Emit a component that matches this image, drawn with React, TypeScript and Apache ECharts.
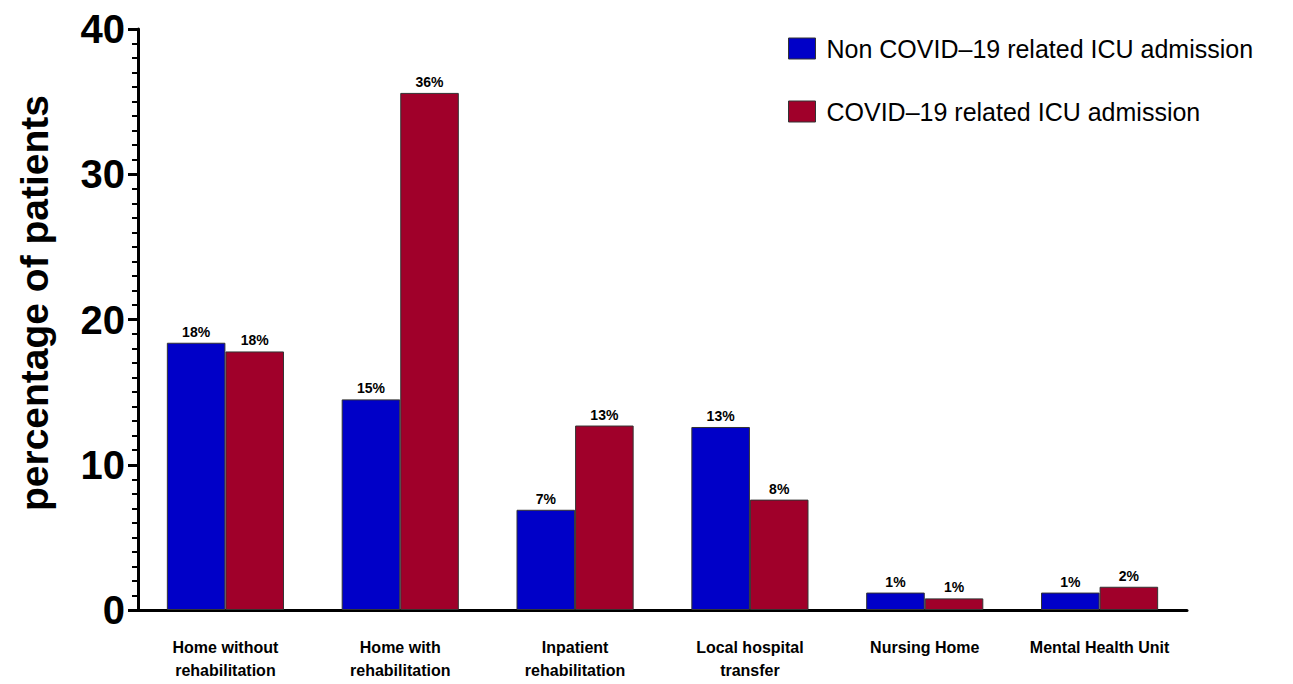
import React, { useEffect, useRef } from "react";
import * as echarts from "echarts";

const categories = [
  "Home without\nrehabilitation",
  "Home with\nrehabilitation",
  "Inpatient\nrehabilitation",
  "Local hospital\ntransfer",
  "Nursing Home",
  "Mental Health Unit",
];
const nonCovid = [18.4, 14.5, 6.9, 12.6, 1.2, 1.2];
const covid = [17.8, 35.6, 12.7, 7.6, 0.8, 1.6];
const seriesNames = ["Non COVID\u201319 related ICU admission", "COVID\u201319 related ICU admission"];
const yTicks = [0, 10, 20, 30, 40];

const FONT = "Liberation Sans, Arial, sans-serif";

export default function App() {
  const ref = useRef<HTMLDivElement>(null);
  useEffect(() => {
    document.body.style.margin = "0";
    const chart = echarts.init(ref.current!, null, { renderer: "svg" });
    const labelStyle = {
      show: true,
      position: "top" as const,
      distance: 4,
      fontFamily: FONT,
      fontWeight: "bold" as const,
      fontSize: 14,
      color: "#000",
      formatter: (p: any) => Math.round(p.value) + "%",
    };
    chart.setOption({
      animation: false,
      backgroundColor: "#fff",
      grid: { left: 138, right: 106, top: 29, bottom: 74, containLabel: false },
      legend: {
        orient: "vertical",
        left: 788,
        top: 36,
        padding: 0,
        itemWidth: 27,
        itemHeight: 21,
        itemGap: 38,
        icon: "rect",
        itemStyle: { borderColor: "#333", borderWidth: 1 },
        textStyle: { fontFamily: FONT, fontSize: 25, color: "#000", padding: [0, 0, 0, 6] },
        data: seriesNames,
      },
      xAxis: {
        type: "category",
        data: categories,
        axisLine: { lineStyle: { color: "#000", width: 3 } },
        axisTick: { show: false },
        axisLabel: {
          interval: 0,
          margin: 26,
          fontFamily: FONT,
          fontWeight: "bold",
          fontSize: 16,
          lineHeight: 23,
          color: "#000",
        },
      },
      yAxis: {
        type: "value",
        min: yTicks[0],
        max: yTicks[yTicks.length - 1],
        interval: 10,
        axisLine: { show: true, lineStyle: { color: "#000", width: 3 } },
        axisTick: { show: true, length: 10, lineStyle: { color: "#000", width: 3 } },
        minorTick: { show: true, splitNumber: 10, length: 6, lineStyle: { color: "#000", width: 2 } },
        splitLine: { show: false },
        axisLabel: {
          margin: 13,
          fontFamily: FONT,
          fontWeight: "bold",
          fontSize: 40,
          color: "#000",
        },
      },
      graphic: [
        {
          type: "text",
          x: 34,
          y: 303,
          rotation: Math.PI / 2,
          style: {
            text: "percentage of patients",
            fontFamily: FONT,
            fontWeight: "bold",
            fontSize: 39,
            fill: "#000",
            align: "center",
            verticalAlign: "middle",
          },
        },
      ],
      series: [
        {
          name: seriesNames[0],
          type: "bar",
          data: nonCovid,
          barGap: "0%",
          barCategoryGap: "33%",
          itemStyle: { color: "#0000C8", borderColor: "#333", borderWidth: 1 },
          label: labelStyle,
        },
        {
          name: seriesNames[1],
          type: "bar",
          data: covid,
          barGap: "0%",
          barCategoryGap: "33%",
          itemStyle: { color: "#A0002A", borderColor: "#333", borderWidth: 1 },
          label: labelStyle,
        },
      ],
    });
    return () => chart.dispose();
  }, []);
  return <div ref={ref} style={{ width: 1293, height: 684 }} />;
}
